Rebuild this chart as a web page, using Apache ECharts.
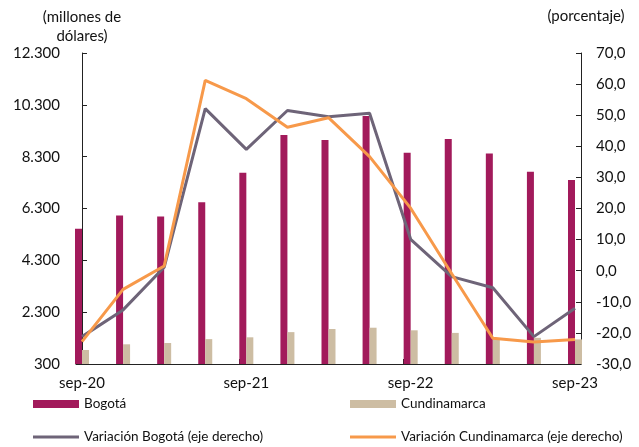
<!DOCTYPE html>
<html>
<head>
<meta charset="utf-8">
<script src="https://cdn.jsdelivr.net/npm/echarts@6/dist/echarts.min.js"></script>
<style>
  html, body { margin: 0; padding: 0; background: #ffffff; }
  #chart { width: 639px; height: 447px; }
</style>
</head>
<body>
<div id="chart"></div>
<script>
// Quarterly periods, Sep-2020 to Sep-2023
const categories = ['sep-20', 'dic-20', 'mar-21', 'jun-21', 'sep-21', 'dic-21', 'mar-22',
                    'jun-22', 'sep-22', 'dic-22', 'mar-23', 'jun-23', 'sep-23'];
// Only every fourth period is labelled on the horizontal axis
const labelledIdx = [0, 4, 8, 12];

// Values in millions of dollars (left axis)
const bogota       = [5520, 6030, 5990, 6540, 7680, 9140, 8940, 9870, 8450, 8980, 8420, 7720, 7400];
const cundinamarca = [840, 1060, 1110, 1260, 1330, 1530, 1650, 1700, 1600, 1500, 1290, 1310, 1250];

// Annual variation in percent (right axis)
const varBogota       = [-21.2, -12.6, 1.1, 52.1, 39.0, 51.5, 49.5, 50.6, 10.1, -1.9, -5.5, -21.2, -12.1];
const varCundinamarca = [-22.8, -6.0, 1.5, 61.2, 55.3, 46.1, 49.2, 36.7, 20.1, -1.0, -21.7, -22.9, -22.1];

const FONT = 'Lato, "Open Sans", sans-serif';
const TEXT = '#111111';
const AXIS = '#222222';
const C_BOG = '#a21a5b';
const C_CUN = '#cdbda3';
const C_VB = '#6e6478';
const C_VC = '#f7994a';

const pairs = arr => arr.map((v, i) => [i, v]);
const thousands = v => String(Math.round(v)).replace(/\B(?=(\d{3})+(?!\d))/g, '.');
const decimalComma = v => v.toFixed(1).replace('.', ',');

const chart = echarts.init(document.getElementById('chart'), null, { renderer: 'canvas' });

const legendBase = {
  orient: 'horizontal',
  padding: 0,
  itemGap: 0,
  textStyle: { fontFamily: FONT, fontSize: 13.5, color: TEXT },
  itemWidth: 46,
  selectedMode: false
};

chart.setOption({
  animation: false,
  backgroundColor: '#ffffff',
  textStyle: { fontFamily: FONT },
  grid: { left: 76, right: 58, top: 53, bottom: 83, containLabel: false },
  legend: [
    Object.assign({}, legendBase, { left: 33, top: 397, itemHeight: 8, icon: 'rect', data: ['Bogotá'] }),
    Object.assign({}, legendBase, { left: 350, top: 397, itemHeight: 8, icon: 'rect', data: ['Cundinamarca'] }),
    Object.assign({}, legendBase, { left: 33, top: 430, itemHeight: 3, icon: 'rect', data: ['Variación Bogotá (eje derecho)'] }),
    Object.assign({}, legendBase, { left: 350, top: 430, itemHeight: 3, icon: 'rect', data: ['Variación Cundinamarca (eje derecho)'] })
  ],
  xAxis: {
    type: 'value',
    min: -0.146,
    max: categories.length - 1 + 0.146,
    axisLine: { show: true, onZero: false, lineStyle: { color: AXIS, width: 1 } },
    axisTick: {
      show: true, inside: true, length: 5,
      customValues: labelledIdx.slice(1).map(i => i - 0.17),
      lineStyle: { color: AXIS }
    },
    axisLabel: {
      customValues: labelledIdx,
      formatter: v => categories[Math.round(v)],
      fontFamily: FONT, fontSize: 15, color: TEXT, margin: 12
    },
    splitLine: { show: false }
  },
  yAxis: [
    {
      type: 'value',
      position: 'left',
      min: 300, max: 12300, interval: 2000,
      name: '(millones de\ndólares)',
      nameLocation: 'end',
      nameGap: 1,
      nameTextStyle: { fontFamily: FONT, fontSize: 15, color: TEXT, align: 'center', lineHeight: 19 },
      axisLine: { show: true, lineStyle: { color: AXIS, width: 1 } },
      axisTick: { show: true, inside: true, length: 5, lineStyle: { color: AXIS } },
      axisLabel: { formatter: thousands, fontFamily: FONT, fontSize: 15, color: TEXT, margin: 16 },
      splitLine: { show: false }
    },
    {
      type: 'value',
      position: 'right',
      min: -30, max: 70, interval: 10,
      name: '(porcentaje)',
      nameLocation: 'end',
      nameGap: 29,
      nameTextStyle: { fontFamily: FONT, fontSize: 15, color: TEXT, align: 'center', padding: [0, 0, 0, 10] },
      axisLine: { show: true, lineStyle: { color: AXIS, width: 1 } },
      axisTick: { show: true, inside: true, length: 5, lineStyle: { color: AXIS } },
      axisLabel: { formatter: decimalComma, fontFamily: FONT, fontSize: 15, color: TEXT, margin: 15 },
      splitLine: { show: false }
    }
  ],
  series: [
    {
      name: 'Bogotá', type: 'bar', yAxisIndex: 0,
      data: pairs(bogota), barWidth: 7, barGap: '0%',
      itemStyle: { color: C_BOG }
    },
    {
      name: 'Cundinamarca', type: 'bar', yAxisIndex: 0,
      data: pairs(cundinamarca), barWidth: 7, barGap: '0%',
      itemStyle: { color: C_CUN }
    },
    {
      name: 'Variación Bogotá (eje derecho)', type: 'line', yAxisIndex: 1,
      data: pairs(varBogota), symbol: 'none',
      lineStyle: { color: C_VB, width: 3 }, itemStyle: { color: C_VB }
    },
    {
      name: 'Variación Cundinamarca (eje derecho)', type: 'line', yAxisIndex: 1,
      data: pairs(varCundinamarca), symbol: 'none',
      lineStyle: { color: C_VC, width: 3 }, itemStyle: { color: C_VC }
    }
  ]
});
</script>
</body>
</html>
